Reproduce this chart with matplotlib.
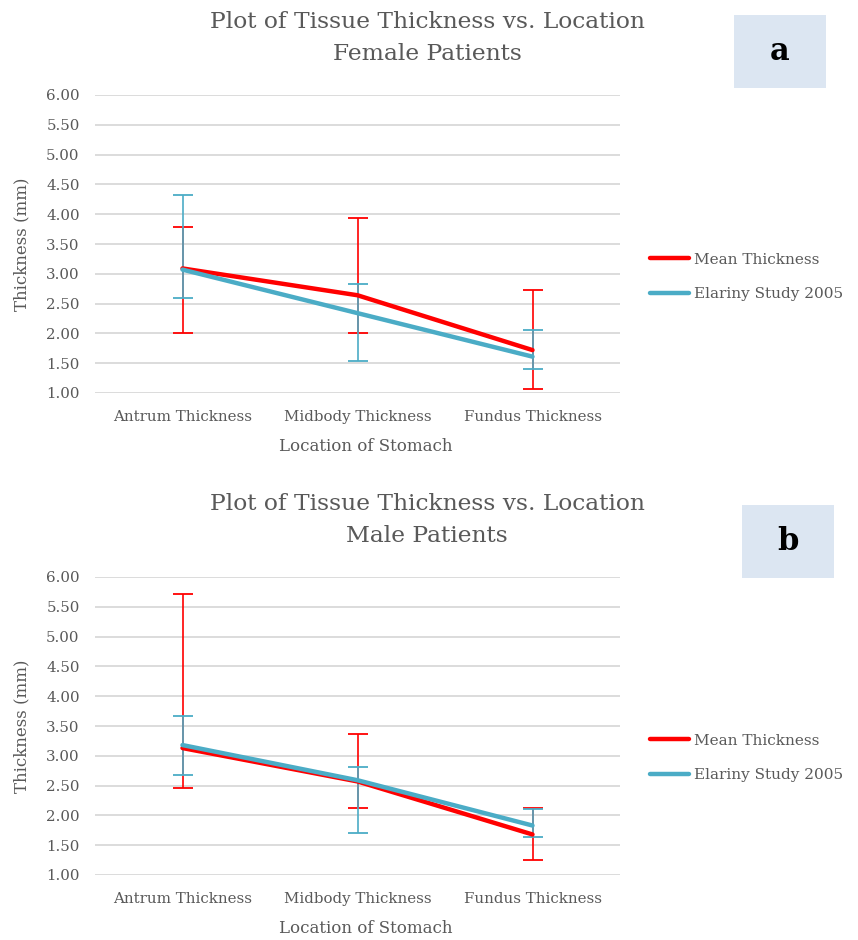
import matplotlib
matplotlib.use("Agg")
import matplotlib.pyplot as plt
from matplotlib.patches import Rectangle
from matplotlib.lines import Line2D

categories = ["Antrum Thickness", "Midbody Thickness", "Fundus Thickness"]

# Female patients (panel a)
fem_mean = [3.09, 2.64, 1.72]
fem_mean_low = [2.00, 2.00, 1.06]
fem_mean_high = [3.79, 3.94, 2.72]
fem_ref = [3.07, 2.34, 1.61]
fem_ref_low = [2.59, 1.54, 1.41]
fem_ref_high = [4.33, 2.83, 2.06]

# Male patients (panel b)
male_mean = [3.13, 2.57, 1.68]
male_mean_low = [2.46, 2.13, 1.25]
male_mean_high = [5.71, 3.36, 2.13]
male_ref = [3.18, 2.59, 1.83]
male_ref_low = [2.68, 1.71, 1.63]
male_ref_high = [3.67, 2.81, 2.11]

yticks = [1.00, 1.50, 2.00, 2.50, 3.00, 3.50, 4.00, 4.50, 5.00, 5.50, 6.00]

series_names = ["Mean Thickness", "Elariny Study 2005"]
RED = "#ff0000"
CYAN = "#4bacc6"
GREY = "#595959"
FONT = "DejaVu Serif"

W, H = 858, 940
fig = plt.figure(figsize=(W / 100, H / 100), dpi=100)


def fx(px):
    return px / W


def fy(py):
    return 1 - py / H


def panel(top, bottom, title, letter, box, mean, ml, mh, ref, rl, rh, legy):
    ax = fig.add_axes([fx(95), fy(bottom), fx(620) - fx(95), fy(top) - fy(bottom)])
    x = list(range(len(categories)))
    ax.set_xlim(-0.5, len(categories) - 0.5)
    ax.set_ylim(1.0, 6.0)
    ax.set_yticks(yticks)
    ax.set_yticklabels([f"{v:.2f}" for v in yticks])
    ax.set_xticks(x)
    ax.set_xticklabels(categories)
    ax.grid(axis="y", color="#d9d9d9", lw=1.3)
    ax.set_axisbelow(True)
    for s in ax.spines.values():
        s.set_visible(False)
    ax.tick_params(length=0, colors=GREY, labelsize=10.8, pad=11)
    for lab in ax.get_xticklabels() + ax.get_yticklabels():
        lab.set_family(FONT)
    ax.tick_params(axis="x", pad=12)
    # error bars
    for vals, lo, hi, col in [(mean, ml, mh, RED), (ref, rl, rh, CYAN)]:
        yerr = [[v - l for v, l in zip(vals, lo)], [h - v for v, h in zip(vals, hi)]]
        ax.errorbar(x, vals, yerr=yerr, fmt="none", ecolor=col, elinewidth=1.2,
                    capsize=7.5, capthick=1.3, zorder=3)
    ax.plot(x, mean, color=RED, lw=3.2, solid_capstyle="round", zorder=4)
    ax.plot(x, ref, color=CYAN, lw=3.2, solid_capstyle="round", zorder=5)
    ax.set_ylabel("Thickness (mm)", family=FONT, color=GREY, fontsize=12, labelpad=11)
    ax.set_xlabel("Location of Stomach", family=FONT, color=GREY, fontsize=12, labelpad=10)
    ax.xaxis.label.set_x((366 - 95) / 525)
    fig.text(fx(427), fy(top - 57), title, ha="center", va="center", family=FONT,
             color=GREY, fontsize=16.8, linespacing=1.6)
    # letter box
    bx0, by0, bx1, by1 = box
    fig.patches.append(Rectangle((fx(bx0), fy(by1)), fx(bx1) - fx(bx0), fy(by0) - fy(by1),
                                 transform=fig.transFigure, facecolor="#dce6f2",
                                 edgecolor="none"))
    fig.text(fx((bx0 + bx1) / 2), fy((by0 + by1) / 2), letter, ha="center", va="center",
             family=FONT, fontweight="bold", fontsize=22, color="black")
    # legend
    handles = [Line2D([], [], color=RED, lw=3.2, solid_capstyle="round"),
               Line2D([], [], color=CYAN, lw=3.2, solid_capstyle="round")]
    fig.legend(handles, series_names, loc="center left",
               bbox_to_anchor=(fx(642), fy(legy)), frameon=False,
               prop={"family": FONT, "size": 11}, labelcolor=GREY,
               handlelength=2.6, handletextpad=0.3, labelspacing=1.35, borderpad=0)
    return ax


panel(95, 393, "Plot of Tissue Thickness vs. Location\nFemale Patients", "a",
      (734, 15, 826, 88), fem_mean, fem_mean_low, fem_mean_high,
      fem_ref, fem_ref_low, fem_ref_high, 277)
panel(577, 875, "Plot of Tissue Thickness vs. Location\nMale Patients", "b",
      (742, 505, 834, 578), male_mean, male_mean_low, male_mean_high,
      male_ref, male_ref_low, male_ref_high, 758)

fig.savefig("out.png", dpi=100, facecolor="white")
